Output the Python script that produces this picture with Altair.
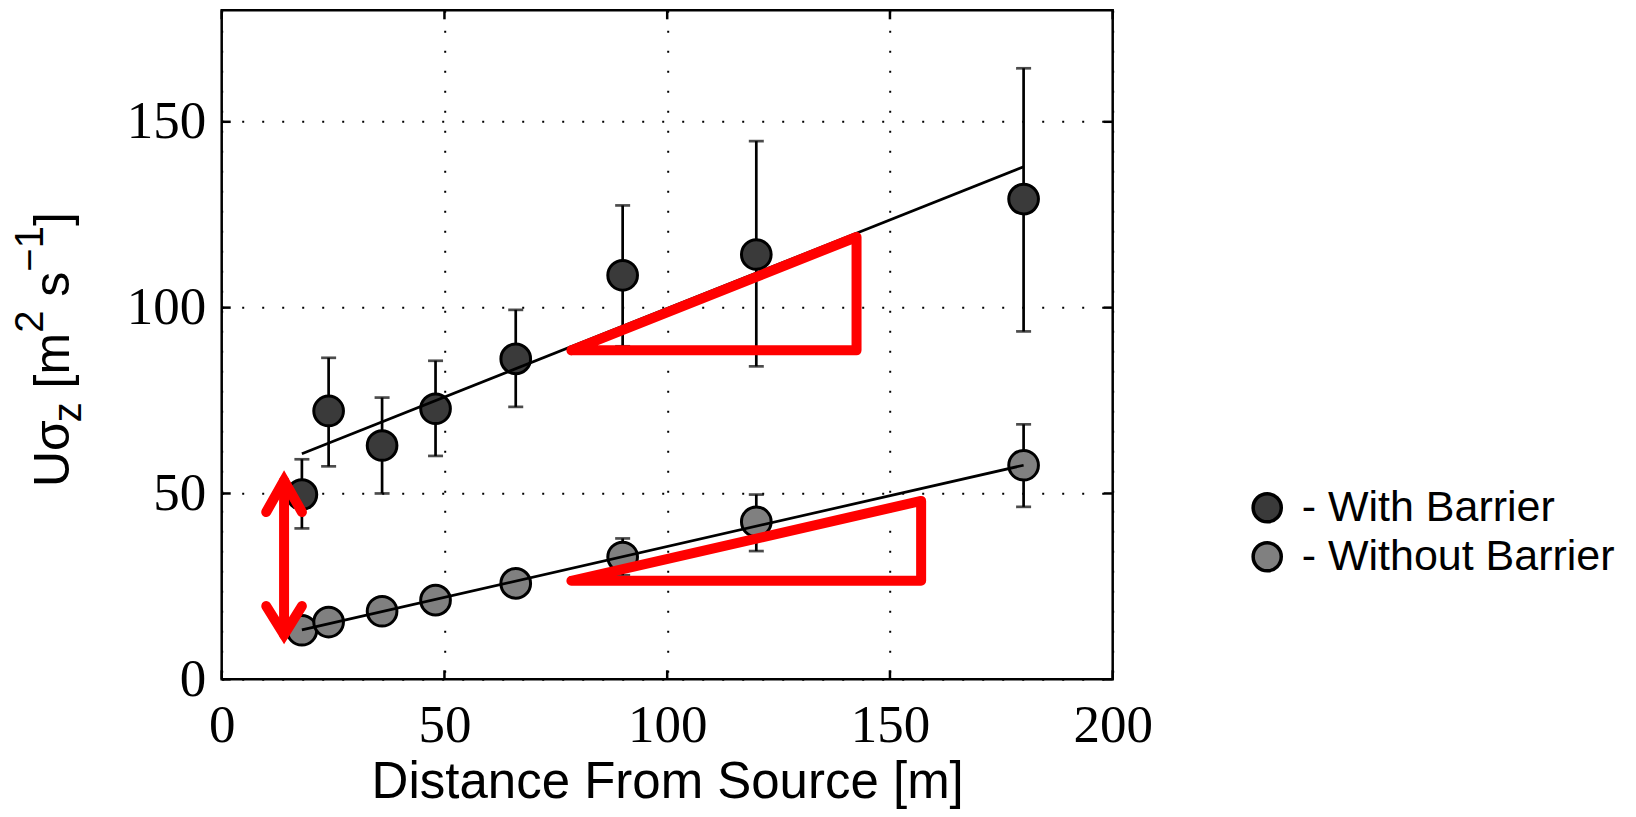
import altair as alt
import pandas as pd

# ---------------- data ----------------
dist = [18, 24, 36, 48, 66, 90, 120, 180]
with_y = [49.7, 72.2, 62.9, 72.8, 86.2, 108.7, 114.3, 129.2]
with_lo = [40.6, 57.3, 50.0, 60.1, 73.3, 89.6, 84.2, 93.6]
with_hi = [59.2, 86.5, 75.8, 85.7, 99.4, 127.5, 144.8, 164.4]
without_y = [13.2, 15.4, 18.3, 21.3, 25.8, 32.9, 42.4, 57.6]
without_lo = [11.0, 13.2, 16.1, 19.1, 23.6, 28.0, 34.5, 46.4]
without_hi = [15.4, 17.6, 20.5, 23.5, 28.0, 37.9, 49.7, 68.6]
fit_x = [18, 180]
with_fit = [60.7, 137.9]
without_fit = [13.3, 57.6]
series = ["With Barrier", "Without Barrier"]
colors = ["#3a3a3a", "#808080"]
x_ticks = [0, 50, 100, 150, 200]
y_ticks = [0, 50, 100, 150]

# red annotation shapes (data coordinates)
tri_upper_x = [78.5, 142.5, 142.5, 78.5]
tri_upper_y = [88.5, 88.5, 119.0, 88.5]
tri_lower_x = [78.5, 157.0, 157.0, 78.5]
tri_lower_y = [26.5, 26.5, 48.0, 26.5]
arrow_top_x = [10.0, 14.0, 18.0]
arrow_top_y = [45.0, 53.5, 45.0]
arrow_shaft_x = [14.0, 14.0]
arrow_shaft_y = [53.5, 12.0]
arrow_bot_x = [10.0, 14.0, 18.0]
arrow_bot_y = [19.7, 12.0, 19.7]

# ---------------- tables ----------------
pts = pd.concat([
    pd.DataFrame({"x": dist, "y": with_y, "lo": with_lo, "hi": with_hi, "series": series[0]}),
    pd.DataFrame({"x": dist, "y": without_y, "lo": without_lo, "hi": without_hi, "series": series[1]}),
])
fits = pd.concat([
    pd.DataFrame({"x": fit_x, "y": with_fit, "series": series[0], "i": [0, 1]}),
    pd.DataFrame({"x": fit_x, "y": without_fit, "series": series[1], "i": [0, 1]}),
])


def path(name, xs, ys):
    return pd.DataFrame({"x": xs, "y": ys, "shape": name, "i": list(range(len(xs)))})


tris = pd.concat([path("upper", tri_upper_x, tri_upper_y), path("lower", tri_lower_x, tri_lower_y)])
arrow = pd.concat([
    path("top", arrow_top_x, arrow_top_y),
    path("shaft", arrow_shaft_x, arrow_shaft_y),
    path("bot", arrow_bot_x, arrow_bot_y),
])

W, H = 891, 669

grid_kw = dict(grid=True, gridColor="black", gridDash=[2, 18], gridWidth=2, gridOpacity=1,
               domain=False, ticks=False, tickSize=0, labelFont="Liberation Serif",
               labelFontSize=53, labelColor="black", labelOverlap=False, labelFlush=False)

xaxis = alt.Axis(values=x_ticks, labelPadding=62, labelBaseline="alphabetic",
                 title="Distance From Source [m]", titleFont="Liberation Sans", titleFontSize=51,
                 titleFontWeight="normal", titleColor="black", titleY=118, titleX=W / 2,
                 titleBaseline="alphabetic", titleAlign="center", **grid_kw)
yaxis = alt.Axis(values=y_ticks, labelPadding=16, labelBaseline="middle", title=None, **grid_kw)

yscale = alt.Scale(domain=[0, 180], nice=False)
X = alt.X("x:Q", scale=alt.Scale(domain=[0, 200], nice=False, zero=False), axis=xaxis)
Y = alt.Y("y:Q", scale=yscale, axis=yaxis)

bars = alt.Chart(pts).mark_rule(color="black", strokeWidth=2.7).encode(
    x=X, y=alt.Y("lo:Q", scale=yscale, axis=yaxis), y2="hi:Q")
caps_lo = alt.Chart(pts).mark_tick(color="black", orient="horizontal", size=15, thickness=2.7).encode(
    x=X, y=alt.Y("lo:Q", scale=yscale, axis=yaxis))
caps_hi = alt.Chart(pts).mark_tick(color="black", orient="horizontal", size=15, thickness=2.7).encode(
    x=X, y=alt.Y("hi:Q", scale=yscale, axis=yaxis))

points = alt.Chart(pts).mark_circle(size=880, stroke="black", strokeWidth=3, opacity=1).encode(
    x=X, y=Y,
    fill=alt.Fill("series:N", scale=alt.Scale(domain=series, range=colors),
                  legend=alt.Legend(orient="none", legendX=1024, legendY=476, title=None,
                                    labelFont="Liberation Sans", labelFontSize=43,
                                    labelColor="black", labelExpr="'- ' + datum.label",
                                    symbolSize=790, symbolStrokeColor="black",
                                    symbolStrokeWidth=3.5, symbolType="circle",
                                    symbolOpacity=1, rowPadding=5, labelOffset=13,
                                    labelLimit=600, padding=0)),
)

fit_lines = alt.Chart(fits).mark_line(color="black", strokeWidth=2.7).encode(
    x=X, y=Y, detail="series:N", order="i:Q")

tick_df = pd.DataFrame({"x": x_ticks})
ytick_df = pd.DataFrame({"y": y_ticks})
xt_bot = alt.Chart(tick_df).mark_rule(color="black", strokeWidth=2.5).encode(
    x=X, y=alt.value(H), y2=alt.value(H - 9))
xt_top = alt.Chart(tick_df).mark_rule(color="black", strokeWidth=2.5).encode(
    x=X, y=alt.value(0), y2=alt.value(9))
yt_left = alt.Chart(ytick_df).mark_rule(color="black", strokeWidth=2.5).encode(
    y=Y, x=alt.value(0), x2=alt.value(9))
yt_right = alt.Chart(ytick_df).mark_rule(color="black", strokeWidth=2.5).encode(
    y=Y, x=alt.value(W), x2=alt.value(W - 9))

red_tri = alt.Chart(tris).mark_line(color="#ff0000", strokeWidth=10, strokeCap="round",
                                    strokeJoin="round").encode(
    x=X, y=Y, detail="shape:N", order="i:Q")
red_arrow = alt.Chart(arrow).mark_line(color="#ff0000", strokeWidth=10, strokeCap="round",
                                       strokeJoin="miter").encode(
    x=X, y=Y, detail="shape:N", order="i:Q")


# ---------------- y-axis title built from pieces (sub/superscripts) ----------------
def ytitle_piece(txt, px, py, size):
    return alt.Chart(pd.DataFrame({"t": [txt]})).mark_text(
        angle=270, align="left", baseline="alphabetic", font="Liberation Sans",
        fontSize=size, color="black").encode(x=alt.value(px), y=alt.value(py), text="t:N")


MAIN, SMALL = 50, 40
BASE, SUB, SUP = -152.7, -140.7, -178.7
title_layers = [
    ytitle_piece("Uσ", BASE, 476.7, MAIN),
    ytitle_piece("z", SUB, 412.0, SMALL),
    ytitle_piece("[m", BASE, 378.1, MAIN),
    ytitle_piece("2", SUP, 322.5, SMALL),
    ytitle_piece("s", BASE, 286.4, MAIN),
    ytitle_piece("\u22121", SUP, 261.4, SMALL),
    ytitle_piece("]", BASE, 215.8, MAIN),
]

chart = alt.layer(
    bars, caps_lo, caps_hi, points, fit_lines, xt_bot, xt_top, yt_left, yt_right,
    red_tri, red_arrow, *title_layers
).properties(
    width=W, height=H,
    autosize=alt.AutoSizeParams(type="none"),
    padding={"left": 213.7, "top": 2.3, "right": 1620 - 213.7 - W, "bottom": 129.5},
    background="white",
).configure_view(stroke="black", strokeWidth=2.5, fill="white")

chart.save("out.html", embed_options={"renderer": "svg", "actions": False})
